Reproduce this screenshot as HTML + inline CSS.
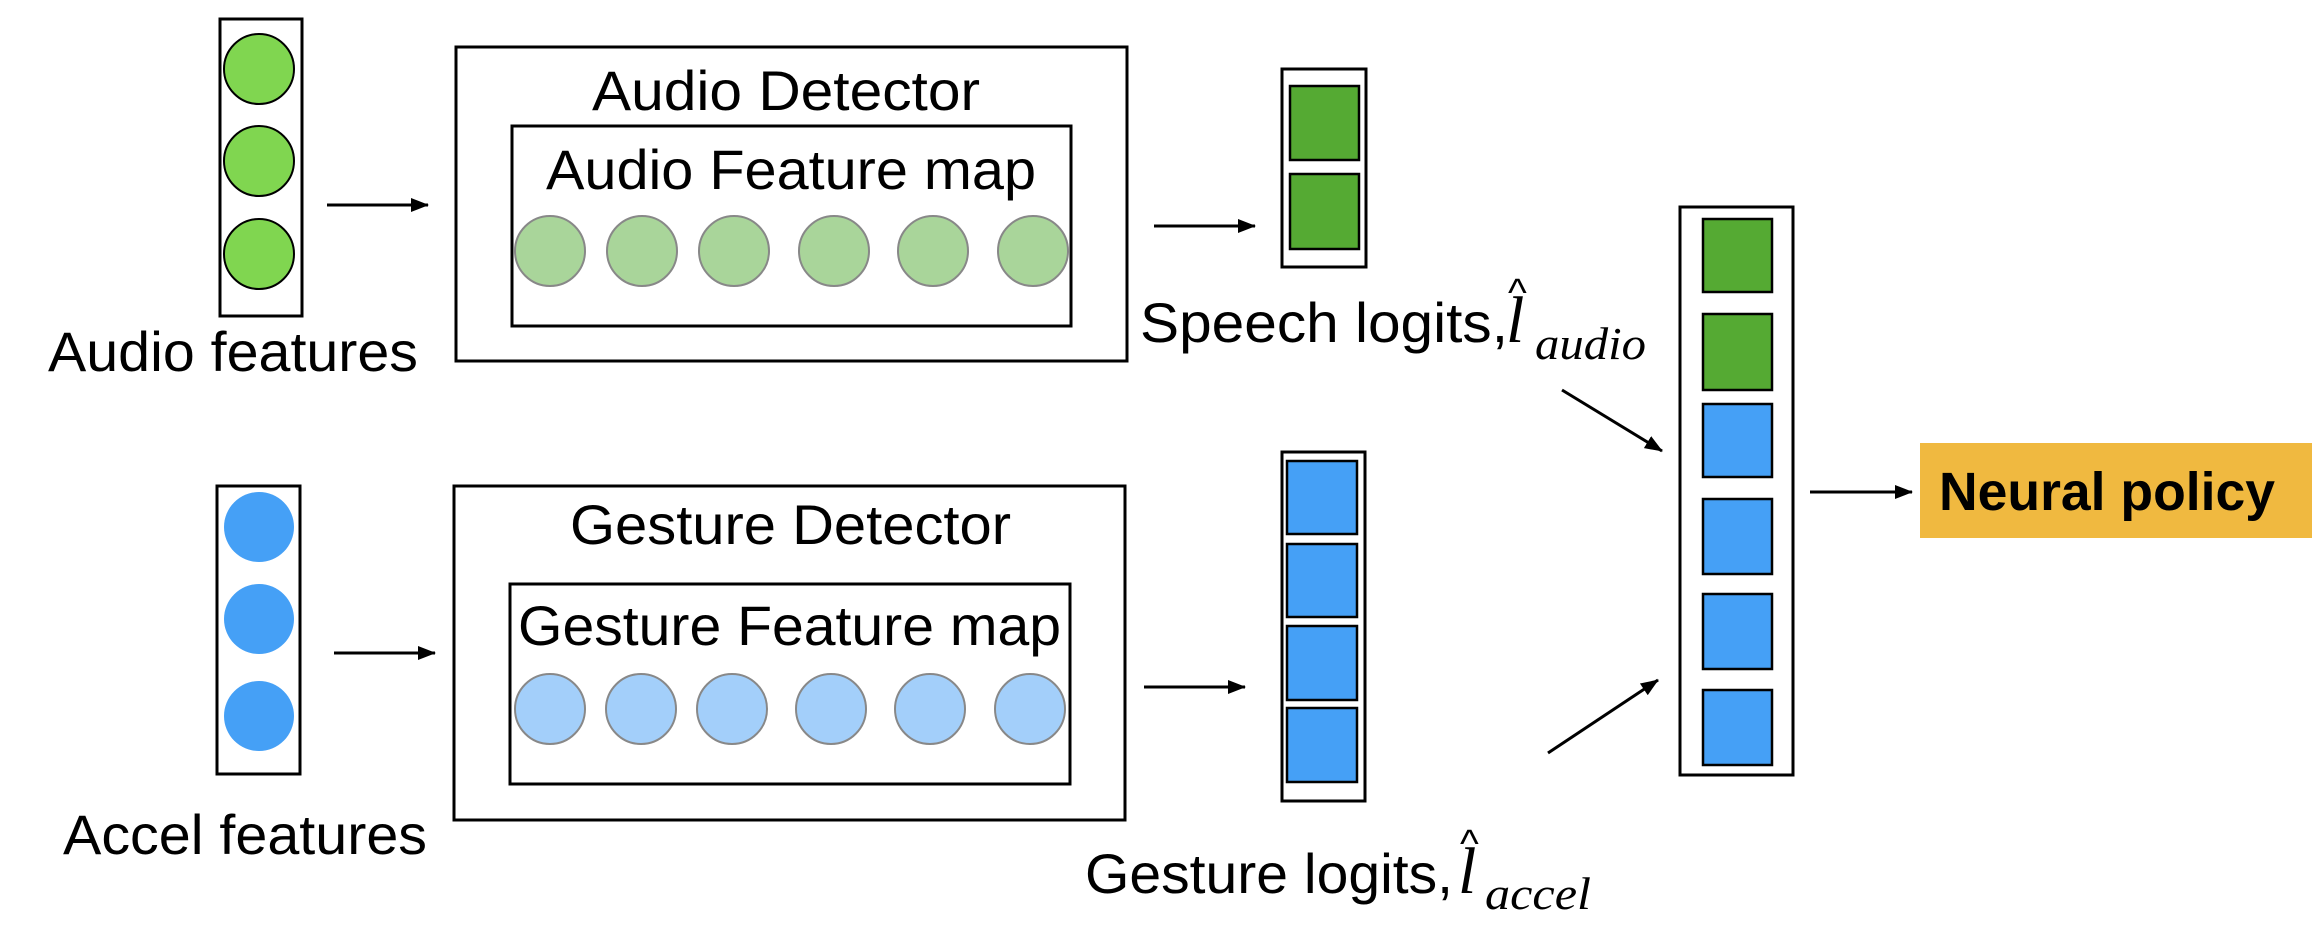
<!DOCTYPE html>
<html><head><meta charset="utf-8"><style>
html,body{margin:0;padding:0;background:#fff;}
svg{display:block;}
text{font-family:"Liberation Sans",sans-serif;fill:#000;}
.m{font-family:"Liberation Serif",serif;font-style:italic;}
</style></head><body>
<svg width="2312" height="930" viewBox="0 0 2312 930" xmlns="http://www.w3.org/2000/svg">
<defs>
<marker id="ah2" markerWidth="18" markerHeight="14" refX="17" refY="7" orient="auto" markerUnits="userSpaceOnUse" viewBox="0 0 18 14">
<path d="M0,0 L18,7 L0,14 z" fill="#000"/></marker>
</defs>
<g stroke="#000" stroke-width="3" fill="none">
<rect x="220" y="19" width="82" height="297"/>
<rect x="217" y="486" width="83" height="288"/>
<rect x="456" y="47" width="671" height="314"/>
<rect x="512" y="126" width="559" height="200"/>
<rect x="454" y="486" width="671" height="334"/>
<rect x="510" y="584" width="560" height="200"/>
<rect x="1282" y="69" width="84" height="198"/>
<rect x="1282" y="452" width="83" height="349"/>
<rect x="1680" y="207" width="113" height="568"/>
</g>
<g stroke="#000" stroke-width="2" fill="#80d650">
<circle cx="259" cy="69" r="35"/><circle cx="259" cy="161" r="35"/><circle cx="259" cy="254" r="35"/>
</g>
<g fill="#45a0f6">
<circle cx="259" cy="527" r="35"/><circle cx="259" cy="619" r="35"/><circle cx="259" cy="716" r="35"/>
</g>
<g stroke="#888" stroke-width="2" fill="#a9d59a">
<circle cx="550" cy="251" r="35"/><circle cx="642" cy="251" r="35"/><circle cx="734" cy="251" r="35"/><circle cx="834" cy="251" r="35"/><circle cx="933" cy="251" r="35"/><circle cx="1033" cy="251" r="35"/>
</g>
<g stroke="#888" stroke-width="2" fill="#a3cffa">
<circle cx="550" cy="709" r="35"/><circle cx="641" cy="709" r="35"/><circle cx="732" cy="709" r="35"/><circle cx="831" cy="709" r="35"/><circle cx="930" cy="709" r="35"/><circle cx="1030" cy="709" r="35"/>
</g>
<g stroke="#000" stroke-width="2.5">
<rect x="1290" y="86" width="69" height="74" fill="#55aa33"/>
<rect x="1290" y="174" width="69" height="75" fill="#55aa33"/>
<rect x="1287" y="461" width="70" height="73" fill="#45a0f6"/>
<rect x="1287" y="544" width="70" height="73" fill="#45a0f6"/>
<rect x="1287" y="626" width="70" height="74" fill="#45a0f6"/>
<rect x="1287" y="708" width="70" height="74" fill="#45a0f6"/>
<rect x="1703" y="219" width="69" height="73" fill="#55aa33"/>
<rect x="1703" y="314" width="69" height="76" fill="#55aa33"/>
<rect x="1703" y="404" width="69" height="73" fill="#45a0f6"/>
<rect x="1703" y="499" width="69" height="75" fill="#45a0f6"/>
<rect x="1703" y="594" width="69" height="75" fill="#45a0f6"/>
<rect x="1703" y="690" width="69" height="75" fill="#45a0f6"/>
</g>
<g stroke="#000" stroke-width="3">
<line x1="327" y1="205" x2="428" y2="205" marker-end="url(#ah2)"/>
<line x1="334" y1="653" x2="435" y2="653" marker-end="url(#ah2)"/>
<line x1="1154" y1="226" x2="1255" y2="226" marker-end="url(#ah2)"/>
<line x1="1144" y1="687" x2="1245" y2="687" marker-end="url(#ah2)"/>
<line x1="1562" y1="390" x2="1662" y2="451" marker-end="url(#ah2)"/>
<line x1="1548" y1="753" x2="1658" y2="680" marker-end="url(#ah2)"/>
<line x1="1810" y1="492" x2="1912" y2="492" marker-end="url(#ah2)"/>
</g>
<rect x="1920" y="443" width="392" height="95" fill="#f0b940"/>
<g font-size="56">
<text x="48" y="371" textLength="370" lengthAdjust="spacingAndGlyphs">Audio features</text>
<text x="63" y="854" textLength="364" lengthAdjust="spacingAndGlyphs">Accel features</text>
<text x="592" y="110" textLength="388" lengthAdjust="spacingAndGlyphs">Audio Detector</text>
<text x="546" y="189" textLength="490" lengthAdjust="spacingAndGlyphs">Audio Feature map</text>
<text x="570" y="544" textLength="441" lengthAdjust="spacingAndGlyphs">Gesture Detector</text>
<text x="518" y="645" textLength="543" lengthAdjust="spacingAndGlyphs">Gesture Feature map</text>
<text x="1140" y="342" textLength="368" lengthAdjust="spacingAndGlyphs">Speech logits,</text>
<text x="1085" y="893" textLength="368" lengthAdjust="spacingAndGlyphs">Gesture logits,</text>
</g>
<text class="m" x="1506" y="342" font-size="66">l</text>
<text x="1508" y="306" font-size="40" font-family="Liberation Serif">^</text>
<text class="m" x="1535" y="359" font-size="46" textLength="111" lengthAdjust="spacingAndGlyphs">audio</text>
<text class="m" x="1458" y="893" font-size="66">l</text>
<text x="1460" y="857" font-size="40" font-family="Liberation Serif">^</text>
<text class="m" x="1485" y="909" font-size="46" textLength="106" lengthAdjust="spacingAndGlyphs">accel</text>
<text x="1939" y="510" font-size="54" font-weight="bold" textLength="336" lengthAdjust="spacingAndGlyphs">Neural policy</text>
</svg>
</body></html>
